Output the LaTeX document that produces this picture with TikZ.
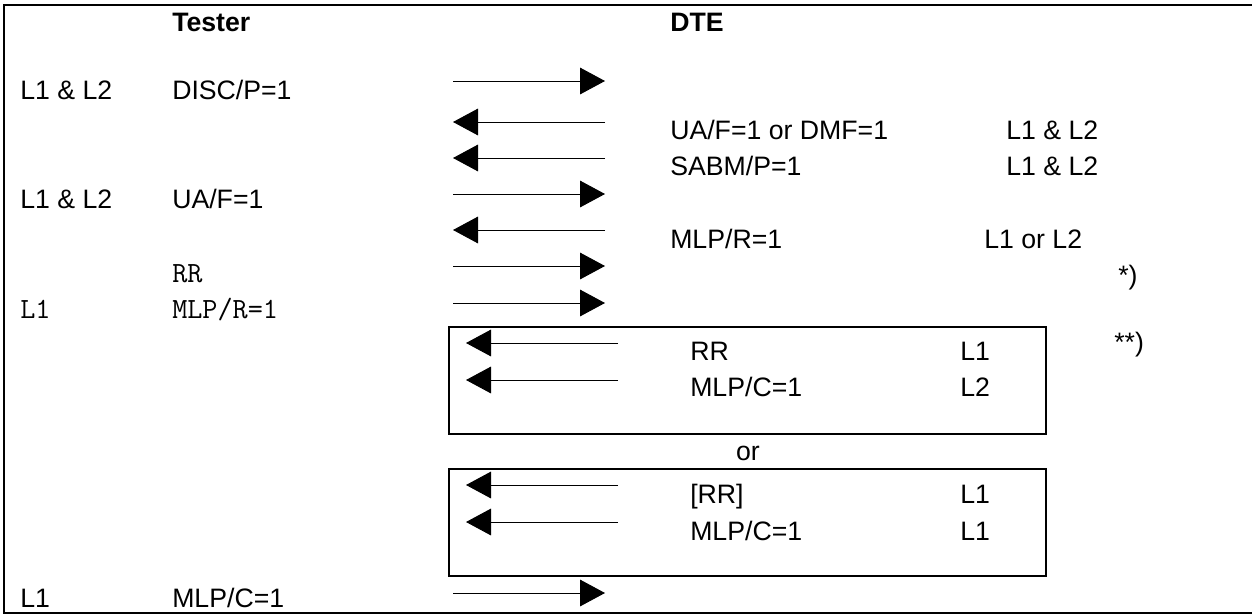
\documentclass[tikz,border=0pt]{standalone}
\usepackage{fontspec}
\setmainfont{Liberation Sans}
\usetikzlibrary{arrows.meta}
\tikzset{
  lbl/.style={anchor=base west,inner sep=0pt,font=\fontsize{20}{24}\selectfont},
  code/.style={lbl,font=\fontsize{22}{26}\selectfont\ttfamily},
  head/.style={lbl,font=\fontsize{20}{24}\selectfont\bfseries},
  msg/.style={-{Triangle[length=18.75pt,width=20pt]},line width=0.75pt},
  frame/.style={line width=1.5pt},
}
\begin{document}
\begin{tikzpicture}[x=0.75pt,y=-0.75pt]
\useasboundingbox (0,0) rectangle (1252,615);
\draw[frame] (1252,5) -- (4,5) -- (4,613) -- (1252,613);
% headings
\node[head] (tester) at (172,31) {Tester};
\node[head] (dte) at (670,31) {DTE};
% tester side
\node[lbl] (tl1) at (20,99) {L1 \& L2};
\node[lbl] (tm1) at (172,99) {DISC/P=1};
\node[lbl] (tl2) at (20,208) {L1 \& L2};
\node[lbl] (tm2) at (172,208) {UA/F=1};
\node[code] (tm3) at (172,282) {RR};
\node[code] (tl4) at (20,318) {L1};
\node[code] (tm4) at (172,318) {MLP/R=1};
\node[lbl] (tl5) at (20,607) {L1};
\node[lbl] (tm5) at (172,607) {MLP/C=1};
% dte side
\node[lbl] (dm1) at (670,139) {UA/F=1 or DMF=1};
\node[lbl] (dl1) at (1006,139) {L1 \& L2};
\node[lbl] (dm2) at (670,175) {SABM/P=1};
\node[lbl] (dl2) at (1006,175) {L1 \& L2};
\node[lbl] (dm3) at (670,248) {MLP/R=1};
\node[lbl] (dl3) at (984,248) {L1 or L2};
\node[lbl] (n1) at (1118,284) {*)};
\node[lbl] (n2) at (1114,351) {**)};
% alternative answers
\draw[frame] (449,327) rectangle (1046,434);
\node[lbl] (am1) at (690,360) {RR};
\node[lbl] (al1) at (960,360) {L1};
\node[lbl] (am2) at (690,396) {MLP/C=1};
\node[lbl] (al2) at (960,396) {L2};
\node[lbl,anchor=base] (or) at (748,460) {or};
\draw[frame] (449,469) rectangle (1046,576);
\node[lbl] (bm1) at (690,503) {[RR]};
\node[lbl] (bl1) at (960,503) {L1};
\node[lbl] (bm2) at (690,540) {MLP/C=1};
\node[lbl] (bl2) at (960,540) {L1};
% message arrows
\foreach \n/\y in {1/81,2/122,3/158,4/194,5/230,6/266,7/303,8/593} {
  \coordinate (w\n) at (453,\y);
  \coordinate (e\n) at (605,\y);
}
\foreach \n/\y in {9/343,10/380,11/485,12/522} {
  \coordinate (w\n) at (466,\y);
  \coordinate (e\n) at (618,\y);
}
\draw[msg] (w1) -- (e1);
\draw[msg] (e2) -- (w2);
\draw[msg] (e3) -- (w3);
\draw[msg] (w4) -- (e4);
\draw[msg] (e5) -- (w5);
\draw[msg] (w6) -- (e6);
\draw[msg] (w7) -- (e7);
\draw[msg] (w8) -- (e8);
\draw[msg] (e9) -- (w9);
\draw[msg] (e10) -- (w10);
\draw[msg] (e11) -- (w11);
\draw[msg] (e12) -- (w12);
\end{tikzpicture}
\end{document}
